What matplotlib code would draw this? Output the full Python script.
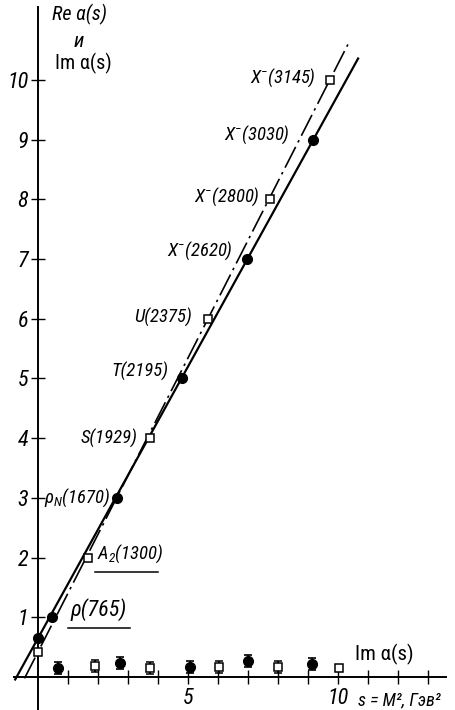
import numpy as np
import matplotlib.pyplot as plt
from matplotlib import font_manager

# pick a narrow font if one is installed
names = {f.name for f in font_manager.fontManager.ttflist}
FONT = 'DejaVu Sans'
for cand in ['Liberation Sans Narrow', 'Roboto Condensed', 'Open Sans Condensed', 'DejaVu Sans Condensed']:
    if cand in names:
        FONT = cand
        break
plt.rcParams['font.family'] = [FONT, 'DejaVu Sans']
plt.rcParams['font.stretch'] = 'condensed'
plt.rcParams['mathtext.fontset'] = 'custom'
plt.rcParams['mathtext.rm'] = FONT + ':italic'
plt.rcParams['mathtext.it'] = FONT + ':italic'

# Re alpha(s): solid line family (filled circles)
s_circ = [0.47, 2.63, 4.8, 6.97, 9.17]
j_circ = [1, 3, 5, 7, 9]
lab_circ = ['ρ(765)', r'$\rho_N$(1670)', 'T(2195)', 'X$^{-}$(2620)', 'X$^{-}$(3030)']
# dash-dot line family (open squares)
s_sq = [1.67, 3.73, 5.67, 7.73, 9.73]
j_sq = [2, 4, 6, 8, 10]
lab_sq = ['$A_2$(1300)', 'S(1929)', 'U(2375)', 'X$^{-}$(2800)', 'X$^{-}$(3145)']

# intercepts at s = 0
icpt_circ = 0.65
icpt_sq = 0.42
slope_circ = 0.91
slope_sq = 0.985

# Im alpha(s)
im_s_circ = [0.67, 2.73, 5.07, 7.0, 9.13]
im_circ = [0.15, 0.24, 0.17, 0.26, 0.22]
im_s_sq = [1.9, 3.73, 6.03, 8.0]
im_sq = [0.19, 0.15, 0.17, 0.16]
im_last_s, im_last = 10.03, 0.15
im_err = 0.1

fig = plt.figure(figsize=(4.55, 7.1), dpi=100)
ax = fig.add_axes([0, 0, 1, 1])
ax.set_xlim(-1.267, 13.9)
ax.set_ylim(-0.553, 11.34)
ax.patch.set_alpha(0)

for sp in ['top', 'right']:
    ax.spines[sp].set_visible(False)
ax.spines['left'].set_position(('data', 0))
ax.spines['bottom'].set_position(('data', 0))
ax.spines['left'].set_bounds(-0.55, 11.22)
ax.spines['bottom'].set_bounds(-0.8, 13.6)
ax.spines['left'].set_linewidth(1.4)
ax.spines['bottom'].set_linewidth(1.4)

ax.set_yticks(range(1, 11))
ax.set_xticks(range(1, 14))
ax.set_xticklabels(['5' if i == 5 else '10' if i == 10 else '' for i in range(1, 14)])
ax.tick_params(direction='inout', length=10, width=1, labelsize=16, pad=2)
ax.tick_params(axis='x', pad=3)
for t in ax.get_xticklabels() + ax.get_yticklabels():
    t.set_fontstyle('italic')

# lines
xs = np.array([-0.76, 10.67])
ax.plot(xs, icpt_circ + slope_circ * xs, color='black', lw=1.6)
xd = np.array([-0.45, 10.33])
ax.plot(xd, icpt_sq + slope_sq * xd, color='black', lw=1.2, ls=(0, (14, 3, 1.5, 3)))

# points on lines
ax.plot(s_circ + [0], j_circ + [icpt_circ], 'o', color='black', ms=7, zorder=5)
ax.plot(s_sq + [0], j_sq + [icpt_sq], 's', mfc='white', mec='black', mew=1.1, ms=6, zorder=5)

# Im points
ax.errorbar(im_s_circ, im_circ, yerr=im_err, fmt='o', color='black', ms=7,
            capsize=3, elinewidth=1.2, capthick=1.2, zorder=5)
ax.errorbar(im_s_sq, im_sq, yerr=im_err, fmt='s', mfc='white', mec='black', ecolor='black',
            mew=1.1, ms=6, capsize=3, elinewidth=1.2, capthick=1.2, zorder=5)
ax.plot(im_last_s, im_last, 's', mfc='white', mec='black', mew=1.1, ms=6, zorder=5)

# resonance labels (offsets in pixels)
off_circ = [(18, 8), (-7, 0), (-14, 7), (-14, 8), (-23, 5)]
off_sq = [(9, 4), (-12, 0), (-16, 1), (-10, 3), (-14, 2)]
kw = dict(textcoords='offset pixels', fontstyle='italic', va='center')
for s, j, lab, off in zip(s_circ, j_circ, lab_circ, off_circ):
    fs = 16 if lab.startswith('ρ(') else 13.5
    ax.annotate(lab, (s, j), xytext=off, ha='left' if off[0] > 10 else 'right', fontsize=fs, **kw)
for s, j, lab, off in zip(s_sq, j_sq, lab_sq, off_sq):
    ax.annotate(lab, (s, j), xytext=off, ha='left' if off[0] > 0 else 'right', fontsize=13.5, **kw)

# underlines under A2(1300) and rho(765)
ax.plot([1.9, 4.0], [1.76, 1.76], color='black', lw=1.1)
ax.plot([1.0, 3.07], [0.82, 0.82], color='black', lw=1.1)

# axis titles
ax.text(0.47, 11.09, 'Re α(s)', fontsize=14.5, fontstyle='italic', va='center', ha='left')
ax.text(1.35, 10.64, 'и', fontsize=15, fontstyle='italic', va='center', ha='center')
ax.text(0.57, 10.28, 'Im α(s)', fontsize=14.5, va='center', ha='left')
ax.text(10.57, 0.37, 'Im α(s)', fontsize=15, va='center', ha='left')
ax.text(10.67, -0.39, 's = M², Гэв²', fontsize=13, fontstyle='italic', va='center', ha='left')

fig.savefig('out.png', dpi=100)
